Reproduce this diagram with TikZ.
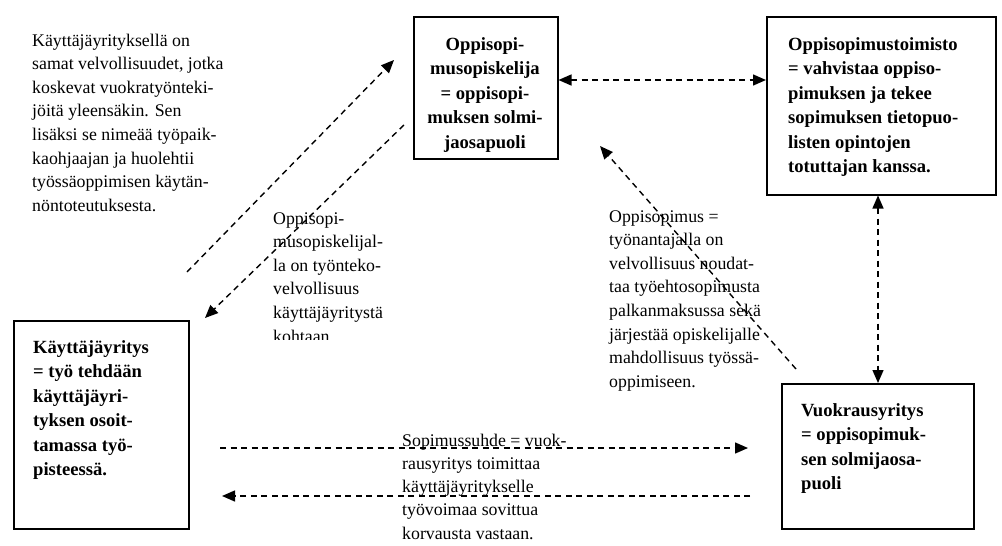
\documentclass[tikz,border=0pt]{standalone}
\usepackage{fontspec}
\setmainfont{Liberation Serif}
\usetikzlibrary{arrows.meta}

\newcommand{\plaintext}[1]{\fontsize{17.8pt}{#1}\selectfont}
\newcommand{\boxtext}{\fontsize{18.6pt}{24.5pt}\selectfont\bfseries}

\tikzset{
  framebox/.style={draw, line width=1.5pt, inner sep=0pt, anchor=north west},
  txt/.style={inner sep=0pt, anchor=base west},
  ctxt/.style={inner sep=0pt, anchor=base},
  tip/.style={Triangle[length=13pt,width=11pt]},
  link/.style={line width=1.4pt, dash pattern=on 6pt off 4.5pt, -{Triangle[length=13pt,width=11pt]}},
  twoway/.style={line width=1.4pt, dash pattern=on 6pt off 4.5pt,
    {Triangle[length=13pt,width=11pt]}-{Triangle[length=13pt,width=11pt]}},
}

\begin{document}
\begin{tikzpicture}[x=1pt,y=-1pt]
\useasboundingbox (0,0) rectangle (1002,546);

% the four parties
\node[framebox, minimum width=144pt, minimum height=142pt] (A) at (413,16) {};
\node[framebox, minimum width=229pt, minimum height=178pt] (B) at (766,16) {};
\node[framebox, minimum width=175pt, minimum height=208pt] (C) at (13,320) {};
\node[framebox, minimum width=192pt, minimum height=145pt] (D) at (781,383) {};

\node[ctxt] (At) at (485,50) {\parbox[t]{140pt}{\centering\boxtext
Oppisopi-\\musopiskelija\\= oppisopi-\\muksen solmi-\\jaosapuoli}};
\node[txt] (Bt) at (788,50) {\parbox[t]{210pt}{\raggedright\boxtext
Oppisopimustoimisto\\= vahvistaa oppiso-\\pimuksen ja tekee\\sopimuksen tietopuo-\\listen opintojen\\totuttajan kanssa.}};
\node[txt] (Ct) at (33,353) {\parbox[t]{160pt}{\raggedright\boxtext
Käyttäjäyritys\\= työ tehdään\\käyttäjäyri-\\tyksen osoit-\\tamassa työ-\\pisteessä.}};
\node[txt] (Dt) at (801,416) {\parbox[t]{170pt}{\raggedright\boxtext
Vuokrausyritys\\= oppisopimuk-\\sen solmijaosa-\\puoli}};

% explanatory texts
\node[txt] (note1) at (32,46) {\parbox[t]{230pt}{\raggedright\plaintext{23.6pt}
Käyttäjäyrityksellä on\\samat velvollisuudet, jotka\\koskevat vuokratyönteki-\\jöitä yleensäkin. Sen\\lisäksi se nimeää työpaik-\\kaohjaajan ja huolehtii\\työssäoppimisen käytän-\\nöntoteutuksesta.}};

\begin{scope}
  \clip (260,200) rectangle (430,339.5);
  \node[txt] (note2) at (273,224) {\parbox[t]{150pt}{\raggedright\plaintext{23.6pt}
  Oppisopi-\\musopiskelijal-\\la on työnteko-\\velvollisuus\\käyttäjäyritystä\\kohtaan}};
\end{scope}

\node[txt] (note3) at (609,222) {\parbox[t]{200pt}{\raggedright\plaintext{23.6pt}
Oppisopimus =\\työnantajalla on\\velvollisuus noudat-\\taa työehtosopimusta\\palkanmaksussa sekä\\järjestää opiskelijalle\\mahdollisuus työssä-\\oppimiseen.}};

\node[txt] (note4) at (402,446) {\parbox[t]{200pt}{\raggedright\plaintext{23.3pt}
Sopimussuhde = vuok-\\rausyritys toimittaa\\käyttäjäyritykselle\\työvoimaa sovittua\\korvausta vastaan.}};

% free ends of the connectors
\coordinate (upS) at (187,272);
\coordinate (upE) at (394,60);
\coordinate (dnS) at (404,125);
\coordinate (dnE) at (205,318);
\coordinate (diS) at (796,369);
\coordinate (diE) at (600,146);
\coordinate (abRow) at (0,80);
\coordinate (bdCol) at (878,0);
\coordinate (cdTopS) at (220,448);
\coordinate (cdTopE) at (748,448);
\coordinate (cdBotS) at (750,496);
\coordinate (cdBotE) at (222,496);

% connectors
\draw[twoway] (A.east |- abRow) -- (B.west |- abRow);
\draw[twoway] (B.south -| bdCol) -- (D.north -| bdCol);
\draw[link] (upS) -- (upE);
\draw[link] (dnS) -- (dnE);
\draw[link] (diS) -- (diE);
\draw[link] (cdTopS) -- (cdTopE);
\draw[link] (cdBotS) -- (cdBotE);
\end{tikzpicture}
\end{document}
